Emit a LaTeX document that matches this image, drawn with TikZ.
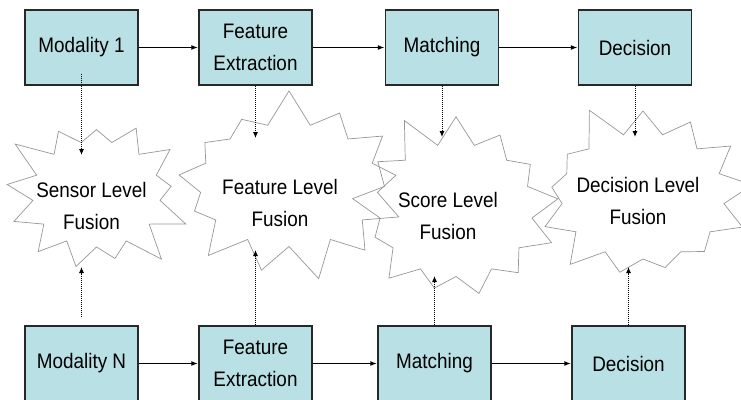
\documentclass[tikz,border=0pt]{standalone}
\usepackage{fontspec}
\setmainfont{Liberation Sans}[FakeStretch=0.9]
\usepackage{tikz}
\definecolor{aqua}{RGB}{185,224,228}
\definecolor{frame}{RGB}{40,40,40}
\definecolor{burst}{RGB}{150,150,150}
\usetikzlibrary{shapes.symbols, arrows.meta}
\tikzstyle{stage} = [rectangle, minimum width=113pt, minimum height=75pt, text centered, align=center, draw=frame, line width=1.5pt, fill=aqua, font=\fontsize{21}{32}\selectfont]
\tikzstyle{fusion} = [starburst, starburst points=13, starburst point height=36pt, inner sep=0pt, draw=burst, line width=0.7pt]
\tikzstyle{fusiontext} = [align=center, font=\fontsize{21}{32}\selectfont]
\tikzstyle{arrow} = [line width=1.4pt,->,>={Latex[length=7pt,width=5pt]}, draw=black]
\tikzstyle{dotarrow} = [line width=1pt, densely dotted, ->, >={Latex[length=6pt,width=5pt]}, draw=black]

\begin{document}
\begin{tikzpicture}[node distance=174pt]
        \useasboundingbox (0,0) rectangle (741pt,-399pt);
        \clip (0,0) rectangle (741pt,-399pt);

        \node (node0) [stage] at (81.5pt,-47.5pt) {Modality 1};
        \node (node1) [stage, right of=node0] {Feature\\Extraction};
        \node (node2) [stage, right of=node1, xshift=12.5pt] {Matching};
        \node (node3) [stage, right of=node2, xshift=19pt] {Decision};

        \node (node4) [stage, below of=node0, yshift=-142pt] {Modality N};
        \node (node5) [stage, right of=node4] {Feature\\Extraction};
        \node (node6) [stage, right of=node5, xshift=5pt] {Matching};
        \node (node7) [stage, right of=node6, xshift=20pt] {Decision};

        \node (node8) [fusion, below of=node0, xshift=15pt, yshift=27.5pt, minimum width=200pt, minimum height=178pt, random starburst=3,
            label={[fusiontext, xshift=-5pt, yshift=-12pt]center:Sensor Level\\Fusion}] {};
        \node (node9) [fusion, below of=node1, xshift=33.5pt, yshift=36.5pt, minimum width=250pt, minimum height=195pt, random starburst=7,
            label={[fusiontext, xshift=-9pt, yshift=-18pt]center:Feature Level\\Fusion}] {};
        \node (node10) [fusion, below of=node2, xshift=14pt, yshift=11.5pt, minimum width=225pt, minimum height=205pt, random starburst=11,
            label={[fusiontext, xshift=-8pt, yshift=-6pt]center:Score Level\\Fusion}] {};
        \node (node11) [fusion, below of=node3, xshift=8pt, yshift=25.5pt, minimum width=235pt, minimum height=198pt, random starburst=5,
            label={[fusiontext, xshift=-5pt, yshift=-5pt]center:Decision Level\\Fusion}] {};

        \draw [arrow] (node0) -- (node1);
        \draw [arrow] (node1) -- (node2);
        \draw [arrow] (node2) -- (node3);
        \draw [arrow] (node4) -- (node5);
        \draw [arrow] (node5) -- (node6);
        \draw [arrow] (node6) -- (node7);

        \draw [dotarrow, shorten <=-12pt, shorten >=39pt] (node0.south) -- (node0.south |- node8.center);
        \draw [dotarrow, shorten >=47pt] (node1.south) -- (node1.south |- node9.center);
        \draw [dotarrow, shorten >=73pt] (node2.south) -- (node2.south |- node10.center);
        \draw [dotarrow, shorten >=59pt] (node3.south) -- (node3.south |- node11.center);

        \draw [dotarrow, shorten <=8pt, shorten >=73pt] (node4.north) -- (node4.north |- node8.center);
        \draw [dotarrow, shorten >=65pt] (node5.north) -- (node5.north |- node9.center);
        \draw [dotarrow, shorten >=66pt] (node6.north) -- (node6.north |- node10.center);
        \draw [dotarrow, shorten >=71pt] (node7.north) -- (node7.north |- node11.center);
\end{tikzpicture}
\end{document}
